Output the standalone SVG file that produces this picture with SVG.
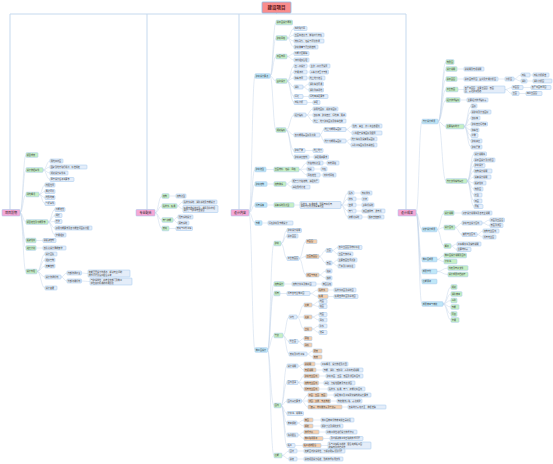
<svg xmlns="http://www.w3.org/2000/svg" width="553" height="464" viewBox="0 0 553 464">
<style>
rect{rx:.8px;ry:.8px;stroke:#9cc4ec;stroke-width:.5}
.r{fill:#f98c8c;stroke:#8ebde8;stroke-width:.8}
.p{fill:#f5a8d6}
.c{fill:#bfe7f8}
.g{fill:#c6efc3}
.b{fill:#e4edf9}
.o{fill:#f5cfae}
text{font-family:"Noto Sans CJK SC","Noto Sans",sans-serif;font-size:2.1px;fill:#333}
.m{font-size:3px;text-anchor:middle;fill:#222}
.t0{font-size:4.5px;text-anchor:middle;fill:#5b1616;font-weight:bold}
#links path{fill:none;stroke:#c6d6ea;stroke-width:.5}
#links .trunk{stroke:#c5d9ee;stroke-width:1}
</style>
<rect width="553" height="464" fill="#fff" style="stroke:none"/>
<g id="links">
<path class="trunk" d="M276.5 13V14M10 209.5V14H406V209.5M147 14V209.5M239 14V209.5"/>
<path d="M20 212.75C23 212.75 23 155 26 155M20 212.75C23 212.75 23 170 26 170M20 212.75C23 212.75 23 194.5 26 194.5M20 212.75C23 212.75 23 222 26 222M20 212.75C23 212.75 23 240.5 26 240.5M20 212.75C23 212.75 23 248 26 248M20 212.75C23 212.75 23 271.5 26 271.5"/>
<path d="M43 170C46.5 170 46.5 161 50 161M43 170C46.5 170 46.5 167 50 167M43 170C46.5 170 46.5 173 50 173M43 170C46.5 170 46.5 179.5 50 179.5"/>
<path d="M39 194.5C42 194.5 42 185 45 185M39 194.5C42 194.5 42 191.5 45 191.5M39 194.5C42 194.5 42 197.5 45 197.5M39 194.5C42 194.5 42 203.5 45 203.5"/>
<path d="M48 222C51.5 222 51.5 209.5 55 209.5M48 222C51.5 222 51.5 215.5 55 215.5M48 222C51.5 222 51.5 221.5 55 221.5M48 222C51.5 222 51.5 228 55 228M48 222C51.5 222 51.5 235 55 235"/>
<path d="M36 240.5H43M36 248H43"/>
<path d="M37 271.5C41 271.5 41 254 45 254M37 271.5C41 271.5 41 260 45 260M37 271.5C41 271.5 41 266 45 266M37 271.5C41 271.5 41 277 45 277M37 271.5C41 271.5 41 288 45 288"/>
<path d="M61 277C64 277 64 273 67 273M61 277C64 277 64 281 67 281M81.5 273C84.5 273 84.5 273.5 88 273.5M81.5 281C85.5 281 85.5 281.5 90 281.5"/>
<path d="M155 212.75C158.5 212.75 158.5 196 162 196M155 212.75C158.5 212.75 158.5 206 162 206M155 212.75C158.5 212.75 158.5 220 162 220M155 212.75C158.5 212.75 158.5 228.5 162 228.5"/>
<path d="M169 196H176M177 206C180 206 180 202 183 202M177 206C180 206 180 209 183 209M173 220C175.5 220 175.5 217 178 217M173 220C175.5 220 175.5 223 178 223M169 228.5H176"/>
<path d="M249 212.75C252 212.75 252 76 255 76M249 212.75C252 212.75 252 169.5 255 169.5M249 212.75C252 212.75 252 184 255 184M249 212.75C252 212.75 252 205 255 205M249 212.75C252 212.75 252 223 255 223M249 212.75C252 212.75 252 350 255 350"/>
<path d="M270 76C273 76 273 22.5 276 22.5M270 76C273 76 273 38 276 38M270 76C273 76 273 56.5 276 56.5M270 76C273 76 273 81 276 81M270 76C273 76 273 130 276 130"/>
<path d="M287 38C290.5 38 290.5 28.5 294 28.5M287 38C290.5 38 290.5 35 294 35M287 38C290.5 38 290.5 41 294 41M287 38C290.5 38 290.5 47 294 47M287 56.5C290.5 56.5 290.5 53.5 294 53.5M287 56.5C290.5 56.5 290.5 60 294 60"/>
<path d="M287 81C290.5 81 290.5 66 294 66M287 81C290.5 81 290.5 72 294 72M287 81C290.5 81 290.5 78 294 78M287 81C290.5 81 290.5 87 294 87M287 81C290.5 81 290.5 96.5 294 96.5M287 81C290.5 81 290.5 102.5 294 102.5"/>
<path d="M307 66H310M307 72H310M307 78H309M303 87C306 87 306 84 309 84M303 87C306 87 306 90 309 90M303 96.5H309M307 102.5H313"/>
<path d="M286 130C290 130 290 115 294 115M286 130C290 130 290 135 294 135M286 130C290 130 290 150.5 294 150.5M286 130C290 130 290 157 294 157"/>
<path d="M306 115C309.5 115 309.5 109 313 109M306 115H313M306 115C309.5 115 309.5 121 313 121M320 135C322 135 322 129.5 324 129.5M320 135C322 135 322 141 324 141M346 129.5C349 129.5 349 126 352 126M346 129.5C349 129.5 349 133 352 133M346 141C348.5 141 348.5 139 351 139M346 141C348.5 141 348.5 145 351 145M305 150.5H313M309 157H314"/>
<path d="M266 169.5H274M299 169.5C303 169.5 303 163 307 163M299 169.5C303 169.5 303 169 307 169M299 169.5C303 169.5 303 175 307 175M323 163H327M314 169H321M320 175H323"/>
<path d="M267 184H274M286 184C289 184 289 181 292 181M286 184C289 184 289 187 292 187"/>
<path d="M267 205H274M294 205H300M341 205C344.5 205 344.5 193 348 193M341 205C344.5 205 344.5 199 348 199M341 205H348M341 205C344.5 205 344.5 211 348 211M341 205C344.5 205 344.5 217 348 217M354 193H361M356 199H362M356 205H362M356 211H362M362 217H368"/>
<path d="M262 223H268"/>
<path d="M267.5 350C270.5 350 270.5 243.5 274 243.5M267.5 350C270.5 350 270.5 284 274 284M267.5 350C270.5 350 270.5 293.5 274 293.5M267.5 350C270.5 350 270.5 335.5 274 335.5M267.5 350C270.5 350 270.5 405.5 274 405.5M267.5 350C270.5 350 270.5 455.5 274 455.5"/>
<path d="M281 243.5C284 243.5 284 230.5 287 230.5M281 243.5C284 243.5 284 236 287 236M281 243.5C284 243.5 284 258.5 287 258.5M299 258.5C302.5 258.5 302.5 241.5 306 241.5M299 258.5C302.5 258.5 302.5 256.5 306 256.5M299 258.5C302.5 258.5 302.5 275 306 275"/>
<path d="M319 256.5C322.5 256.5 322.5 250.5 326 250.5M319 256.5C322.5 256.5 322.5 263 326 263M332 250.5C335 250.5 335 247.5 338 247.5M332 250.5C335 250.5 335 254 338 254M332 263C335 263 335 260 338 260M332 263C335 263 335 266 338 266M319 275C322.5 275 322.5 271 326 271M319 275C322.5 275 322.5 278 326 278"/>
<path d="M284 284H292M316 284H322M280 293.5H287M310 293.5C314 293.5 314 290 318 290M310 293.5C314 293.5 314 296.5 318 296.5M328 290H334M328 296.5H334"/>
<path d="M283 335.5C286 335.5 286 317 289 317M283 335.5C286 335.5 286 341.5 289 341.5M283 335.5C286 335.5 286 354 289 354M297 317C300.5 317 300.5 305 304 305M297 317H304M297 317C300.5 317 300.5 329 304 329"/>
<path d="M312 305C315.5 305 315.5 301.5 319 301.5M312 305C315.5 305 315.5 306.5 319 306.5M312 317C315.5 317 315.5 314.5 319 314.5M312 317C315.5 317 315.5 320 319 320M312 329C315.5 329 315.5 326 319 326M312 329C315.5 329 315.5 332.5 319 332.5"/>
<path d="M298 341.5C301 341.5 301 338.5 304 338.5M298 341.5C301 341.5 301 345 304 345M307 354C310 354 310 351 313 351M307 354C310 354 310 357 313 357"/>
<path d="M281 405.5C284 405.5 284 366 287 366M281 405.5C284 405.5 284 382.5 287 382.5M281 405.5C284 405.5 284 401 287 401M281 405.5C284 405.5 284 413.5 287 413.5M281 405.5C284 405.5 284 423 287 423M281 405.5C284 405.5 284 435 287 435M281 405.5C284 405.5 284 445.5 287 445.5"/>
<path d="M298 366C301 366 301 364 304 364M298 366C301 366 301 370 304 370M315 364H321M316 370H323M298 382.5C301 382.5 301 376 304 376M298 382.5C301 382.5 301 383 304 383M298 382.5C301 382.5 301 389 304 389M319 376H326M318.5 383H324M319 389H328"/>
<path d="M301.5 401C304.75 401 304.75 395 308 395M301.5 401H308M301.5 401C304.75 401 304.75 407 308 407M327 395H334M330.5 401H337M342 407H348"/>
<path d="M297 423C300.5 423 300.5 420 304 420M297 423C300.5 423 300.5 426 304 426M313 420H321M313 426H321M298 435C301 435 301 432 304 432M298 435C301 435 301 438.5 304 438.5M319 432H326M323 438.5H330M295 445.5H303M321 445.5H328"/>
<path d="M282 455.5C285.5 455.5 285.5 451 289 451M282 455.5C285.5 455.5 285.5 459 289 459M297 451H304M297 459H304"/>
<path d="M416 212.75C419 212.75 419 121.5 422 121.5M416 212.75C419 212.75 419 229.5 422 229.5M416 212.75C419 212.75 419 259.5 422 259.5M416 212.75C419 212.75 419 271.5 422 271.5M416 212.75C419 212.75 419 281.5 422 281.5M416 212.75C419 212.75 419 304 422 304"/>
<path d="M438 121.5C442 121.5 442 62 446 62M438 121.5C442 121.5 442 69 446 69M438 121.5C442 121.5 442 79 446 79M438 121.5C442 121.5 442 89.5 446 89.5M438 121.5C442 121.5 442 100 446 100M438 121.5C442 121.5 442 126.5 446 126.5M438 121.5C442 121.5 442 181 446 181"/>
<path d="M457 69H464M457 79H464M498 79H505M514 79C517.5 79 517.5 75 521 75M514 79C517.5 79 517.5 81 521 81M530 75H533M527 81H533M458 89.5H464M505 89.5C508.5 89.5 508.5 87.5 512 87.5M505 89.5C508.5 89.5 508.5 93.5 512 93.5M523 87.5H531M519 93.5H526M460 100H467"/>
<path d="M464 126.5C467.5 126.5 467.5 106 471 106M464 126.5C467.5 126.5 467.5 112 471 112M464 126.5C467.5 126.5 467.5 118 471 118M464 126.5C467.5 126.5 467.5 124 471 124M464 126.5C467.5 126.5 467.5 130 471 130M464 126.5C467.5 126.5 467.5 135.5 471 135.5M464 126.5C467.5 126.5 467.5 141 471 141M464 126.5C467.5 126.5 467.5 147 471 147"/>
<path d="M467 181C470.5 181 470.5 154 474 154M467 181C470.5 181 470.5 160 474 160M467 181C470.5 181 470.5 165.5 474 165.5M467 181C470.5 181 470.5 171 474 171M467 181C470.5 181 470.5 177 474 177M467 181C470.5 181 470.5 183 474 183M467 181C470.5 181 470.5 189 474 189M467 181C470.5 181 470.5 195 474 195M467 181C470.5 181 470.5 201 474 201M467 181C470.5 181 470.5 206.5 474 206.5"/>
<path d="M437 229.5C440.5 229.5 440.5 213 444 213M437 229.5C440.5 229.5 440.5 227.5 444 227.5M437 229.5C440.5 229.5 440.5 246 444 246M454 213H462M455 227.5C458.5 227.5 458.5 223 462 223M455 227.5C458.5 227.5 458.5 234.5 462 234.5M482 223C486 223 486 220 490 220M482 223C486 223 486 225.5 490 225.5M477 234.5C480 234.5 480 231 483 231M477 234.5C480 234.5 480 237 483 237M451 246C454 246 454 244 457 244M451 246C454 246 454 249.5 457 249.5"/>
<path d="M437 259.5C440.5 259.5 440.5 255.5 444 255.5M437 259.5C440.5 259.5 440.5 261.5 444 261.5M437 271.5C442.5 271.5 442.5 268 448 268M437 271.5C442.5 271.5 442.5 274.5 448 274.5"/>
<path d="M443 304C447 304 447 287 451 287M443 304C447 304 447 294 451 294M443 304C447 304 447 300.5 451 300.5M443 304C447 304 447 307 451 307M443 304C447 304 447 314 451 314M443 304C447 304 447 320 451 320"/>
</g>
<g id="nodes">
<g id="root"><rect class="r" x="262" y="2" width="29" height="11"/><text class="t0" x="276.5" y="9.2">建设项目</text></g>
<g id="L0"><rect class="p" x="2" y="209.5" width="18" height="6.5"/><text class="m" x="11" y="213.85">项目前期</text></g>
<g id="L1"><rect class="g" x="26" y="152.7" width="12" height="4.6"/><text x="26.8" y="155.8">项目背景</text></g>
<g id="L2"><rect class="g" x="26" y="167.7" width="17" height="4.6"/><text x="26.8" y="170.8">设计依据条件</text></g>
<g id="L2a"><rect class="b" x="50" y="159" width="13" height="4"/><text x="50.8" y="161.8">用地红线图</text></g>
<g id="L2b"><rect class="b" x="50" y="165" width="37" height="4"/><text x="50.8" y="167.8">国家及地方现行规范、标准规定</text></g>
<g id="L2c"><rect class="b" x="50" y="171" width="18" height="4"/><text x="50.8" y="173.8">规划设计条件书</text></g>
<g id="L2d"><rect class="b" x="50" y="177.5" width="24" height="4"/><text x="50.8" y="180.3">甲方设计任务书要求</text></g>
<g id="L3"><rect class="g" x="26" y="192.2" width="13" height="4.6"/><text x="26.8" y="195.3">场地概况</text></g>
<g id="L3a"><rect class="b" x="45" y="183" width="10" height="4"/><text x="45.8" y="185.8">地理位置</text></g>
<g id="L3b"><rect class="b" x="45" y="189.5" width="10" height="4"/><text x="45.8" y="192.3">周边环境</text></g>
<g id="L3c"><rect class="b" x="45" y="195.5" width="10" height="4"/><text x="45.8" y="198.3">地形地貌</text></g>
<g id="L3d"><rect class="b" x="45" y="201.5" width="10" height="4"/><text x="45.8" y="204.3">气候条件</text></g>
<g id="L4"><rect class="g" x="26" y="219.7" width="22" height="4.6"/><text x="26.8" y="222.8">项目定位及功能需求</text></g>
<g id="L4a"><rect class="b" x="55" y="207.5" width="10" height="4"/><text x="55.8" y="210.3">功能定位</text></g>
<g id="L4b"><rect class="b" x="55" y="213.5" width="7" height="4"/><text x="55.8" y="216.3">规模</text></g>
<g id="L4c"><rect class="b" x="55" y="219.5" width="7" height="4"/><text x="55.8" y="222.3">档次</text></g>
<g id="L4d"><rect class="b" x="55" y="226" width="37" height="4"/><text x="55.8" y="228.8">使用功能要求及各功能空间面积分配</text></g>
<g id="L4e"><rect class="b" x="55" y="233" width="11" height="4"/><text x="55.8" y="235.8">交通组织</text></g>
<g id="L5"><rect class="g" x="26" y="238.2" width="10" height="4.6"/><text x="26.8" y="241.3">投资估算</text></g>
<g id="L5a"><rect class="b" x="43" y="238.5" width="13" height="4"/><text x="43.8" y="241.3">总投资控制</text></g>
<g id="L6"><rect class="g" x="26" y="245.7" width="10" height="4.6"/><text x="26.8" y="248.8">进度计划</text></g>
<g id="L6a"><rect class="b" x="43" y="246" width="23" height="4"/><text x="43.8" y="248.8">各阶段设计周期安排</text></g>
<g id="L7"><rect class="g" x="26" y="269.2" width="11" height="4.6"/><text x="26.8" y="272.3">设计管理</text></g>
<g id="L7a"><rect class="b" x="45" y="252" width="12" height="4"/><text x="45.8" y="254.8">设计团队</text></g>
<g id="L7b"><rect class="b" x="45" y="258" width="10" height="4"/><text x="45.8" y="260.8">组织架构</text></g>
<g id="L7c"><rect class="b" x="45" y="264" width="10" height="4"/><text x="45.8" y="266.8">质量控制</text></g>
<g id="L7d"><rect class="b" x="45" y="275" width="16" height="4"/><text x="45.8" y="277.8">设计协调机制</text></g>
<g id="L7e"><rect class="b" x="45" y="286" width="12" height="4"/><text x="45.8" y="288.8">设计变更</text></g>
<g id="L7d1"><rect class="b" x="67" y="271" width="14.5" height="4"/><text x="67.8" y="273.8">内部协调会议</text></g>
<g id="L7d2"><rect class="b" x="67" y="279" width="14.5" height="4"/><text x="67.8" y="281.8">外部沟通机制</text></g>
<g id="L7d1a"><rect class="b" x="88" y="270" width="42" height="7"/><text x="88.8" y="273.05">定期召开设计协调会，解决专业间的</text><text x="88.8" y="275.55">技术问题及接口配合事宜</text></g>
<g id="L7d2a"><rect class="b" x="90" y="278" width="42" height="7"/><text x="90.8" y="281.05">与建设单位、政府主管部门及施工</text><text x="90.8" y="283.55">单位保持畅通的沟通渠道</text></g>
<g id="M0"><rect class="p" x="136" y="209.5" width="19" height="6.5"/><text class="m" x="145.5" y="213.85">专业配合</text></g>
<g id="M1"><rect class="g" x="162" y="193.7" width="7" height="4.6"/><text x="162.8" y="196.8">结构</text></g>
<g id="M1a"><rect class="b" x="176" y="194" width="10" height="4"/><text x="176.8" y="196.8">结构选型</text></g>
<g id="M2"><rect class="g" x="162" y="203.7" width="15" height="4.6"/><text x="162.8" y="206.8">给排水、暖通</text></g>
<g id="M2a"><rect class="b" x="183" y="200" width="34" height="4"/><text x="183.8" y="202.8">给排水系统、消防系统及节能设计</text></g>
<g id="M2b"><rect class="b" x="183" y="205.5" width="35" height="7"/><text x="183.8" y="208.55">暖通空调系统选型、通风及防排烟</text><text x="183.8" y="211.05">设计，与建筑专业配合</text></g>
<g id="M3"><rect class="g" x="162" y="217.7" width="11" height="4.6"/><text x="162.8" y="220.8">电气智能</text></g>
<g id="M3a"><rect class="b" x="178" y="215" width="15" height="4"/><text x="178.8" y="217.8">强电系统设计</text></g>
<g id="M3b"><rect class="b" x="178" y="221" width="11" height="4"/><text x="178.8" y="223.8">弱电系统</text></g>
<g id="M4"><rect class="g" x="162" y="226.2" width="7" height="4.6"/><text x="162.8" y="229.3">景观</text></g>
<g id="M4a"><rect class="b" x="176" y="226.5" width="16.5" height="4"/><text x="176.8" y="229.3">景观与室外工程</text></g>
<g id="C0"><rect class="p" x="231" y="209.5" width="18" height="6.5"/><text class="m" x="240" y="213.85">设计内容</text></g>
<g id="A"><rect class="c" x="255" y="73.7" width="15" height="4.6"/><text x="255.8" y="76.8">建筑设计要点</text></g>
<g id="A1"><rect class="g" x="276" y="20.2" width="16.5" height="4.6"/><text x="276.8" y="23.3">总平面设计原则</text></g>
<g id="A2"><rect class="g" x="276" y="35.7" width="11" height="4.6"/><text x="276.8" y="38.8">建筑风格</text></g>
<g id="A2a"><rect class="b" x="294" y="26.5" width="13" height="4"/><text x="294.8" y="29.3">简约现代风</text></g>
<g id="A2b"><rect class="b" x="294" y="33" width="30" height="4"/><text x="294.8" y="35.8">立面简洁大方，体现时代特色</text></g>
<g id="A2c"><rect class="b" x="294" y="39" width="30" height="4"/><text x="294.8" y="41.8">材料耐久、色彩与环境协调</text></g>
<g id="A2d"><rect class="b" x="294" y="45" width="24" height="4"/><text x="294.8" y="47.8">建筑体量与尺度的控制</text></g>
<g id="A3"><rect class="g" x="276" y="54.2" width="11" height="4.6"/><text x="276.8" y="57.3">平面布局</text></g>
<g id="A3a"><rect class="b" x="294" y="51.5" width="15" height="4"/><text x="294.8" y="54.3">功能分区明确</text></g>
<g id="A3b"><rect class="b" x="294" y="58" width="15" height="4"/><text x="294.8" y="60.8">流线组织合理</text></g>
<g id="A4"><rect class="g" x="276" y="78.7" width="11" height="4.6"/><text x="276.8" y="81.8">竖向设计</text></g>
<g id="A4a"><rect class="b" x="294" y="64" width="13" height="4"/><text x="294.8" y="66.8">出入口设计</text></g>
<g id="A4a1"><rect class="b" x="310" y="64" width="20" height="4"/><text x="310.8" y="66.8">主次入口分开设置</text></g>
<g id="A4b"><rect class="b" x="294" y="70" width="13" height="4"/><text x="294.8" y="72.8">交通流线</text></g>
<g id="A4b1"><rect class="b" x="310" y="70" width="18.5" height="4"/><text x="310.8" y="72.8">人车分流互不干扰</text></g>
<g id="A4c"><rect class="b" x="294" y="76" width="13" height="4"/><text x="294.8" y="78.8">停车布置</text></g>
<g id="A4c1"><rect class="b" x="309" y="76" width="16" height="4"/><text x="309.8" y="78.8">地上地下结合</text></g>
<g id="A4d"><rect class="b" x="294" y="85" width="9" height="4"/><text x="294.8" y="87.8">消防</text></g>
<g id="A4d1"><rect class="b" x="309" y="82" width="14.5" height="4"/><text x="309.8" y="84.8">消防车道环通</text></g>
<g id="A4d2"><rect class="b" x="309" y="88" width="14.5" height="4"/><text x="309.8" y="90.8">消防登高场地</text></g>
<g id="A4e"><rect class="b" x="294" y="94.5" width="9" height="4"/><text x="294.8" y="97.3">绿化</text></g>
<g id="A4e1"><rect class="b" x="309" y="94.5" width="19" height="4"/><text x="309.8" y="97.3">绿地率满足要求</text></g>
<g id="A4f"><rect class="b" x="294" y="100.5" width="13" height="4"/><text x="294.8" y="103.3">日照分析</text></g>
<g id="A4f1"><rect class="b" x="313" y="100.5" width="7" height="4"/><text x="313.8" y="103.3">满足</text></g>
<g id="A5"><rect class="g" x="276" y="127.7" width="10" height="4.6"/><text x="276.8" y="130.8">规划指标</text></g>
<g id="A5a"><rect class="b" x="294" y="113" width="12" height="4"/><text x="294.8" y="115.8">经济指标</text></g>
<g id="A5a1"><rect class="b" x="313" y="107" width="25" height="4"/><text x="313.8" y="109.8">总用地面积、总建筑面积</text></g>
<g id="A5a2"><rect class="b" x="313" y="113" width="33" height="4"/><text x="313.8" y="115.8">容积率、建筑密度、绿地率、限高</text></g>
<g id="A5a3"><rect class="b" x="313" y="119" width="33" height="4"/><text x="313.8" y="121.8">地上、地下建筑面积及停车位数</text></g>
<g id="A5b"><rect class="b" x="294" y="133" width="26" height="4"/><text x="294.8" y="135.8">各功能用房面积及比例</text></g>
<g id="A5b1"><rect class="b" x="324" y="127.5" width="22" height="4"/><text x="324.8" y="130.3">地上功能用房面积</text></g>
<g id="A5b2"><rect class="b" x="324" y="139" width="22" height="4"/><text x="324.8" y="141.8">地下功能用房面积</text></g>
<g id="A5b1a"><rect class="b" x="352" y="124" width="30" height="4"/><text x="352.8" y="126.8">住宅、商业、办公等业态配比</text></g>
<g id="A5b1b"><rect class="b" x="352" y="131" width="30" height="4"/><text x="352.8" y="133.8">公共配套设施面积及配置</text></g>
<g id="A5b2a"><rect class="b" x="351" y="137" width="26" height="4"/><text x="351.8" y="139.8">地下车库及设备用房面积</text></g>
<g id="A5b2b"><rect class="b" x="351" y="143" width="26" height="4"/><text x="351.8" y="145.8">人防工程面积及平战结合</text></g>
<g id="A5c"><rect class="b" x="294" y="148.5" width="11" height="4"/><text x="294.8" y="151.3">建筑层数</text></g>
<g id="A5c1"><rect class="b" x="313" y="148.5" width="10" height="4"/><text x="313.8" y="151.3">地上地下</text></g>
<g id="A5d"><rect class="b" x="294" y="155" width="15" height="4"/><text x="294.8" y="157.8">建筑高度控制</text></g>
<g id="A5d1"><rect class="b" x="314" y="155" width="14.5" height="4"/><text x="314.8" y="157.8">满足限高要求</text></g>
<g id="B"><rect class="c" x="255" y="167.2" width="11" height="4.6"/><text x="255.8" y="170.3">建筑造型</text></g>
<g id="B1"><rect class="g" x="274" y="167.2" width="25" height="4.6"/><text x="274.8" y="170.3">立面材料、色彩、风格</text></g>
<g id="B1a"><rect class="b" x="307" y="161" width="16" height="4"/><text x="307.8" y="163.8">外墙材料选型</text></g>
<g id="B1a1"><rect class="b" x="327" y="161" width="12" height="4"/><text x="327.8" y="163.8">石材幕墙</text></g>
<g id="B1b"><rect class="b" x="307" y="167" width="7" height="4"/><text x="307.8" y="169.8">色彩</text></g>
<g id="B1b1"><rect class="b" x="321" y="167" width="6" height="4"/><text x="321.8" y="169.8">浅色</text></g>
<g id="B1c"><rect class="b" x="307" y="173" width="13" height="4"/><text x="307.8" y="175.8">风格定位</text></g>
<g id="B1c1"><rect class="b" x="323" y="173" width="13" height="4"/><text x="323.8" y="175.8">新中式风格</text></g>
<g id="C"><rect class="c" x="255" y="181.7" width="12" height="4.6"/><text x="255.8" y="184.8">建筑结构</text></g>
<g id="C1"><rect class="g" x="274" y="181.7" width="12" height="4.6"/><text x="274.8" y="184.8">结构体系</text></g>
<g id="C1a"><rect class="b" x="292" y="179" width="27" height="4"/><text x="292.8" y="181.8">框架剪力墙结构，满足抗震</text></g>
<g id="C1b"><rect class="b" x="292" y="185" width="18" height="4"/><text x="292.8" y="187.8">基础形式待定</text></g>
<g id="D"><rect class="c" x="255" y="202.7" width="12" height="4.6"/><text x="255.8" y="205.8">机电设备</text></g>
<g id="D1"><rect class="g" x="274" y="202.7" width="20" height="4.6"/><text x="274.8" y="205.8">设备系统及选型</text></g>
<g id="D1a"><rect class="b" x="300" y="201.5" width="41" height="7"/><text x="300.8" y="204.55">给排水、暖通空调、强弱电等机电</text><text x="300.8" y="207.05">系统方案比选及设备选型</text></g>
<g id="D1a1"><rect class="b" x="348" y="191" width="6" height="4"/><text x="348.8" y="193.8">给水</text></g>
<g id="D1a1x"><rect class="b" x="361" y="191" width="11" height="4"/><text x="361.8" y="193.8">市政供水</text></g>
<g id="D1a2"><rect class="b" x="348" y="197" width="8" height="4"/><text x="348.8" y="199.8">排水</text></g>
<g id="D1a2x"><rect class="b" x="362" y="197" width="6" height="4"/><text x="362.8" y="199.8">分流</text></g>
<g id="D1a3"><rect class="b" x="348" y="203" width="8" height="4"/><text x="348.8" y="205.8">空调</text></g>
<g id="D1a3x"><rect class="b" x="362" y="203" width="12" height="4"/><text x="362.8" y="205.8">多联机系统</text></g>
<g id="D1a4"><rect class="b" x="348" y="209" width="8" height="4"/><text x="348.8" y="211.8">电气</text></g>
<g id="D1a4x"><rect class="b" x="362" y="209" width="23" height="4"/><text x="362.8" y="211.8">双回路供电、发电机</text></g>
<g id="D1a5"><rect class="b" x="348" y="215" width="14" height="4"/><text x="348.8" y="217.8">智能化系统</text></g>
<g id="D1a5x"><rect class="b" x="368" y="215" width="16" height="4"/><text x="368.8" y="217.8">楼宇自控安防</text></g>
<g id="E"><rect class="c" x="255" y="220.7" width="7" height="4.6"/><text x="255.8" y="223.8">节能</text></g>
<g id="E1"><rect class="b" x="268" y="221" width="25" height="4"/><text x="268.8" y="223.8">绿色建筑及节能设计</text></g>
<g id="F"><rect class="c" x="255" y="347.7" width="12.5" height="4.6"/><text x="255.8" y="350.8">施工图设计</text></g>
<g id="F1"><rect class="g" x="274" y="241.2" width="7" height="4.6"/><text x="274.8" y="244.3">建筑</text></g>
<g id="F1a"><rect class="b" x="287" y="228.5" width="14.5" height="4"/><text x="287.8" y="231.3">建筑设计说明</text></g>
<g id="F1b"><rect class="b" x="287" y="234" width="11" height="4"/><text x="287.8" y="236.8">总平面图</text></g>
<g id="F1c"><rect class="b" x="287" y="256.5" width="12" height="4"/><text x="287.8" y="259.3">平立剖面图</text></g>
<g id="F1c1"><rect class="o" x="306" y="239.5" width="11" height="4"/><text x="306.8" y="242.3">平面图</text></g>
<g id="F1c2"><rect class="o" x="306" y="254.5" width="13" height="4"/><text x="306.8" y="257.3">立面剖面图</text></g>
<g id="F1c3"><rect class="o" x="306" y="273" width="13" height="4"/><text x="306.8" y="275.8">详图与节点</text></g>
<g id="F1c2a"><rect class="b" x="326" y="248.5" width="6" height="4"/><text x="326.8" y="251.3">立面</text></g>
<g id="F1c2b"><rect class="b" x="326" y="261" width="6" height="4"/><text x="326.8" y="263.8">剖面</text></g>
<g id="F1c2a1"><rect class="b" x="338" y="245.5" width="24" height="4"/><text x="338.8" y="248.3">各向立面图及材料标注</text></g>
<g id="F1c2a2"><rect class="b" x="338" y="252" width="15" height="4"/><text x="338.8" y="254.8">立面装饰线条</text></g>
<g id="F1c2b1"><rect class="b" x="338" y="258" width="19" height="4"/><text x="338.8" y="260.8">主要剖面位置选取</text></g>
<g id="F1c2b2"><rect class="b" x="338" y="264" width="17" height="4"/><text x="338.8" y="266.8">层高及净高标注</text></g>
<g id="F1c3a"><rect class="b" x="326" y="269" width="6" height="4"/><text x="326.8" y="271.8">墙身</text></g>
<g id="F1c3b"><rect class="b" x="326" y="276" width="6" height="4"/><text x="326.8" y="278.8">楼梯</text></g>
<g id="F2"><rect class="g" x="274" y="281.7" width="10" height="4.6"/><text x="274.8" y="284.8">结构设计</text></g>
<g id="F2a"><rect class="b" x="292" y="282" width="24" height="4"/><text x="292.8" y="284.8">结构计算书及施工图</text></g>
<g id="F2b"><rect class="b" x="322" y="282" width="10" height="4"/><text x="322.8" y="284.8">审图合格</text></g>
<g id="F3"><rect class="g" x="274" y="291.2" width="6" height="4.6"/><text x="274.8" y="294.3">机电</text></g>
<g id="F3a"><rect class="b" x="287" y="291.5" width="23" height="4"/><text x="287.8" y="294.3">机电各专业施工图</text></g>
<g id="F3a1"><rect class="o" x="318" y="288" width="10" height="4"/><text x="318.8" y="290.8">给排水</text></g>
<g id="F3a1x"><rect class="b" x="334" y="288" width="22" height="4"/><text x="334.8" y="290.8">给排水平面及系统图</text></g>
<g id="F3a2"><rect class="o" x="318" y="294.5" width="10" height="4"/><text x="318.8" y="297.3">暖通</text></g>
<g id="F3a2x"><rect class="b" x="334" y="294.5" width="24" height="4"/><text x="334.8" y="297.3">暖通空调平面及系统图</text></g>
<g id="F4"><rect class="g" x="274" y="333.2" width="9" height="4.6"/><text x="274.8" y="336.3">装修</text></g>
<g id="F4a"><rect class="b" x="289" y="315" width="8" height="4"/><text x="289.8" y="317.8">室内</text></g>
<g id="F4a1"><rect class="o" x="304" y="303" width="8" height="4"/><text x="304.8" y="305.8">大堂</text></g>
<g id="F4a1a"><rect class="b" x="319" y="299.5" width="8" height="4"/><text x="319.8" y="302.3">地面</text></g>
<g id="F4a1b"><rect class="b" x="319" y="304.5" width="8" height="4"/><text x="319.8" y="307.3">墙面</text></g>
<g id="F4a2"><rect class="o" x="304" y="315" width="8" height="4"/><text x="304.8" y="317.8">走廊</text></g>
<g id="F4a2a"><rect class="b" x="319" y="312.5" width="8" height="4"/><text x="319.8" y="315.3">地面</text></g>
<g id="F4a2b"><rect class="b" x="319" y="318" width="8" height="4"/><text x="319.8" y="320.8">吊顶</text></g>
<g id="F4a3"><rect class="o" x="304" y="327" width="8" height="4"/><text x="304.8" y="329.8">卫浴</text></g>
<g id="F4a3a"><rect class="b" x="319" y="324" width="8" height="4"/><text x="319.8" y="326.8">防水</text></g>
<g id="F4a3b"><rect class="b" x="319" y="330.5" width="8" height="4"/><text x="319.8" y="333.3">洁具</text></g>
<g id="F4b"><rect class="b" x="289" y="339.5" width="9" height="4"/><text x="289.8" y="342.3">外立面</text></g>
<g id="F4b1"><rect class="o" x="304" y="336.5" width="8" height="4"/><text x="304.8" y="339.3">幕墙</text></g>
<g id="F4b2"><rect class="o" x="304" y="343" width="8" height="4"/><text x="304.8" y="345.8">涂料</text></g>
<g id="F4c"><rect class="b" x="289" y="352" width="18" height="4"/><text x="289.8" y="354.8">景观及室外工程</text></g>
<g id="F4c1"><rect class="o" x="313" y="349" width="9" height="4"/><text x="313.8" y="351.8">硬景</text></g>
<g id="F4c2"><rect class="o" x="313" y="355" width="9" height="4"/><text x="313.8" y="357.8">软景</text></g>
<g id="F5"><rect class="g" x="274" y="403.2" width="7" height="4.6"/><text x="274.8" y="406.3">图纸</text></g>
<g id="F5a"><rect class="b" x="287" y="364" width="11" height="4"/><text x="287.8" y="366.8">设计说明</text></g>
<g id="F5a1"><rect class="o" x="304" y="362" width="11" height="4"/><text x="304.8" y="364.8">总说明</text></g>
<g id="F5a1x"><rect class="b" x="321" y="362" width="27" height="4"/><text x="321.8" y="364.8">工程概况、设计依据及范围</text></g>
<g id="F5a2"><rect class="o" x="304" y="368" width="12" height="4"/><text x="304.8" y="370.8">专项说明</text></g>
<g id="F5a2x"><rect class="b" x="323" y="368" width="40" height="4"/><text x="323.8" y="370.8">节能、消防、无障碍、人防等专项说明</text></g>
<g id="F5b"><rect class="b" x="287" y="380.5" width="11" height="4"/><text x="287.8" y="383.3">图纸目录</text></g>
<g id="F5b1"><rect class="o" x="304" y="374" width="15" height="4"/><text x="304.8" y="376.8">建筑专业图纸</text></g>
<g id="F5b1x"><rect class="b" x="326" y="374" width="37" height="4"/><text x="326.8" y="376.8">建筑平面、立面、剖面及详图等图纸</text></g>
<g id="F5b2"><rect class="o" x="304" y="381" width="14.5" height="4"/><text x="304.8" y="383.8">结构专业图纸</text></g>
<g id="F5b2x"><rect class="b" x="324" y="381" width="31" height="4"/><text x="324.8" y="383.8">基础、梁板柱配筋及节点详图</text></g>
<g id="F5b3"><rect class="o" x="304" y="387" width="15" height="4"/><text x="304.8" y="389.8">机电专业图纸</text></g>
<g id="F5b3x"><rect class="b" x="328" y="387" width="37" height="4"/><text x="328.8" y="389.8">给排水、暖通、电气、智能化等图纸</text></g>
<g id="F5c"><rect class="b" x="287" y="399" width="14.5" height="4"/><text x="287.8" y="401.8">图纸深度要求</text></g>
<g id="F5c1"><rect class="o" x="308" y="393" width="19" height="4"/><text x="308.8" y="395.8">平面、立面、剖面</text></g>
<g id="F5c1x"><rect class="b" x="334" y="393" width="37" height="4"/><text x="334.8" y="395.8">满足施工及工程预算编制的深度要求</text></g>
<g id="F5c2"><rect class="o" x="308" y="399" width="22.5" height="4"/><text x="308.8" y="401.8">详图、大样、节点构造</text></g>
<g id="F5c2x"><rect class="b" x="337" y="399" width="25" height="4"/><text x="337.8" y="401.8">构造做法清晰、表达完整</text></g>
<g id="F5c3"><rect class="o" x="308" y="405" width="34" height="4"/><text x="308.8" y="407.8">门窗表、材料做法表及装修表</text></g>
<g id="F5c3x"><rect class="b" x="348" y="405" width="38" height="4"/><text x="348.8" y="407.8">各类统计表格齐全，数据准确</text></g>
<g id="F5d"><rect class="b" x="287" y="411.5" width="16.5" height="4"/><text x="287.8" y="414.3">计算书、说明书</text></g>
<g id="F5e"><rect class="b" x="287" y="421" width="10" height="4"/><text x="287.8" y="423.8">审查报批</text></g>
<g id="F5e1"><rect class="o" x="304" y="418" width="9" height="4"/><text x="304.8" y="420.8">审图</text></g>
<g id="F5e1x"><rect class="b" x="321" y="418" width="33" height="4"/><text x="321.8" y="420.8">施工图审查机构审查并出具意见</text></g>
<g id="F5e2"><rect class="o" x="304" y="424" width="9" height="4"/><text x="304.8" y="426.8">报批</text></g>
<g id="F5e2x"><rect class="b" x="321" y="424" width="22" height="4"/><text x="321.8" y="426.8">报建手续及报批文件</text></g>
<g id="F5f"><rect class="b" x="287" y="433" width="11" height="4"/><text x="287.8" y="435.8">现场配合</text></g>
<g id="F5f1"><rect class="o" x="304" y="430" width="15" height="4"/><text x="304.8" y="432.8">技术交底</text></g>
<g id="F5f1x"><rect class="b" x="326" y="430" width="31" height="4"/><text x="326.8" y="432.8">向施工单位进行设计技术交底</text></g>
<g id="F5f2"><rect class="o" x="304" y="436.5" width="19" height="4"/><text x="304.8" y="439.3">施工现场服务</text></g>
<g id="F5f2x"><rect class="b" x="330" y="436.5" width="33" height="4"/><text x="330.8" y="439.3">及时解决施工中出现的技术问题</text></g>
<g id="F5g"><rect class="b" x="287" y="443.5" width="8" height="4"/><text x="287.8" y="446.3">竣工</text></g>
<g id="F5g1"><rect class="o" x="303" y="443.5" width="18" height="4"/><text x="303.8" y="446.3">竣工验收配合</text></g>
<g id="F5g1x"><rect class="b" x="328" y="442" width="43" height="7"/><text x="328.8" y="445.05">参与工程竣工验收，配合完成竣工图</text><text x="328.8" y="447.55">的编制及归档工作</text></g>
<g id="F6"><rect class="g" x="274" y="453.2" width="8" height="4.6"/><text x="274.8" y="456.3">后期</text></g>
<g id="F6a"><rect class="b" x="289" y="449" width="8" height="4"/><text x="289.8" y="451.8">回访</text></g>
<g id="F6a1"><rect class="b" x="304" y="449" width="41" height="4"/><text x="304.8" y="451.8">定期回访建设单位，了解使用情况及问题</text></g>
<g id="F6b"><rect class="b" x="289" y="457" width="8" height="4"/><text x="289.8" y="459.8">总结</text></g>
<g id="F6b1"><rect class="b" x="304" y="457" width="39" height="4"/><text x="304.8" y="459.8">总结项目设计经验，形成技术积累文件</text></g>
<g id="R0"><rect class="p" x="398" y="209.5" width="18" height="6.5"/><text class="m" x="407" y="213.85">设计成果</text></g>
<g id="R1"><rect class="c" x="422" y="119.2" width="16" height="4.6"/><text x="422.8" y="122.3">方案设计成果</text></g>
<g id="R1a"><rect class="g" x="446" y="59.7" width="8" height="4.6"/><text x="446.8" y="62.8">效果图</text></g>
<g id="R1b"><rect class="g" x="446" y="66.7" width="11" height="4.6"/><text x="446.8" y="69.8">设计说明</text></g>
<g id="R1b1"><rect class="b" x="464" y="67" width="20" height="4"/><text x="464.8" y="69.8">总说明及专项说明</text></g>
<g id="R1c"><rect class="g" x="446" y="76.7" width="11" height="4.6"/><text x="446.8" y="79.8">总平面图</text></g>
<g id="R1c1"><rect class="b" x="464" y="77" width="34" height="4"/><text x="464.8" y="79.8">总平面布置图、竖向及交通分析图</text></g>
<g id="R1c2"><rect class="b" x="505" y="77" width="9" height="4"/><text x="505.8" y="79.8">分析图</text></g>
<g id="R1c2a"><rect class="b" x="521" y="73" width="9" height="4"/><text x="521.8" y="75.8">日照</text></g>
<g id="R1c2a1"><rect class="b" x="533" y="73" width="16" height="4"/><text x="533.8" y="75.8">日照分析报告</text></g>
<g id="R1c2b"><rect class="b" x="521" y="79" width="6" height="4"/><text x="521.8" y="81.8">消防</text></g>
<g id="R1c2b1"><rect class="b" x="533" y="79" width="19" height="4"/><text x="533.8" y="81.8">消防分析图</text></g>
<g id="R1d"><rect class="g" x="446" y="87.2" width="12" height="4.6"/><text x="446.8" y="90.3">平立剖面</text></g>
<g id="R1d1"><rect class="b" x="464" y="86" width="41" height="7"/><text x="464.8" y="89.05">各层平面图、主要立面图、剖面</text><text x="464.8" y="91.55">图，表达建筑形态</text></g>
<g id="R1d1a"><rect class="b" x="512" y="85.5" width="11" height="4"/><text x="512.8" y="88.3">平面图</text></g>
<g id="R1d1a1"><rect class="b" x="531" y="85.5" width="20" height="4"/><text x="531.8" y="88.3">各层平面布置图</text></g>
<g id="R1d1b"><rect class="b" x="512" y="91.5" width="7" height="4"/><text x="512.8" y="94.3">立面</text></g>
<g id="R1d1b1"><rect class="b" x="526" y="91.5" width="16" height="4"/><text x="526.8" y="94.3">四向立面图</text></g>
<g id="R1e"><rect class="g" x="446" y="97.7" width="14" height="4.6"/><text x="446.8" y="100.8">经济技术指标</text></g>
<g id="R1e1"><rect class="b" x="467" y="98" width="21" height="4"/><text x="467.8" y="100.8">主要经济技术指标表</text></g>
<g id="R1f"><rect class="g" x="446" y="124.2" width="18" height="4.6"/><text x="446.8" y="127.3">主要指标统计</text></g>
<g id="R1f1"><rect class="b" x="471" y="104" width="6" height="4"/><text x="471.8" y="106.8">面积</text></g>
<g id="R1f2"><rect class="b" x="471" y="110" width="20" height="4"/><text x="471.8" y="112.8">总建筑及计容面积</text></g>
<g id="R1f3"><rect class="b" x="471" y="116" width="9" height="4"/><text x="471.8" y="118.8">容积率</text></g>
<g id="R1f4"><rect class="b" x="471" y="122" width="16.5" height="4"/><text x="471.8" y="124.8">建筑密度绿地率</text></g>
<g id="R1f5"><rect class="b" x="471" y="128" width="8" height="4"/><text x="471.8" y="130.8">停车位</text></g>
<g id="R1f6"><rect class="b" x="471" y="133.5" width="7" height="4"/><text x="471.8" y="136.3">户数</text></g>
<g id="R1f7"><rect class="b" x="471" y="139" width="11" height="4"/><text x="471.8" y="141.8">建筑高度</text></g>
<g id="R1f8"><rect class="b" x="471" y="145" width="11" height="4"/><text x="471.8" y="147.8">建筑层数</text></g>
<g id="R1g"><rect class="g" x="446" y="178.7" width="21" height="4.6"/><text x="446.8" y="181.8">方案文件编制深度</text></g>
<g id="R1g1"><rect class="b" x="474" y="152" width="12.5" height="4"/><text x="474.8" y="154.8">设计说明书</text></g>
<g id="R1g2"><rect class="b" x="474" y="158" width="21" height="4"/><text x="474.8" y="160.8">总平面设计及分析图</text></g>
<g id="R1g3"><rect class="b" x="474" y="163.5" width="11" height="4"/><text x="474.8" y="166.3">建筑设计</text></g>
<g id="R1g4"><rect class="b" x="474" y="169" width="18" height="4"/><text x="474.8" y="171.8">结构设计说明</text></g>
<g id="R1g5"><rect class="b" x="474" y="175" width="17" height="4"/><text x="474.8" y="177.8">设备设计说明</text></g>
<g id="R1g6"><rect class="b" x="474" y="181" width="12" height="4"/><text x="474.8" y="183.8">投资估算</text></g>
<g id="R1g7"><rect class="b" x="474" y="187" width="9" height="4"/><text x="474.8" y="189.8">效果图</text></g>
<g id="R1g8"><rect class="b" x="474" y="193" width="8" height="4"/><text x="474.8" y="195.8">模型</text></g>
<g id="R1g9"><rect class="b" x="474" y="199" width="8" height="4"/><text x="474.8" y="201.8">动画</text></g>
<g id="R1g10"><rect class="b" x="474" y="204.5" width="9" height="4"/><text x="474.8" y="207.3">展板</text></g>
<g id="R2"><rect class="c" x="422" y="227.2" width="15" height="4.6"/><text x="422.8" y="230.3">初步设计成果</text></g>
<g id="R2a"><rect class="g" x="444" y="210.7" width="10" height="4.6"/><text x="444.8" y="213.8">设计说明</text></g>
<g id="R2a1"><rect class="b" x="462" y="211" width="30" height="4"/><text x="462.8" y="213.8">初步设计说明书及各专业说明</text></g>
<g id="R2b"><rect class="g" x="444" y="225.2" width="11" height="4.6"/><text x="444.8" y="228.3">设计图纸</text></g>
<g id="R2b1"><rect class="b" x="462" y="221" width="20" height="4"/><text x="462.8" y="223.8">建筑专业设计图纸</text></g>
<g id="R2b1a"><rect class="b" x="490" y="218" width="14.5" height="4"/><text x="490.8" y="220.8">平面及立面图</text></g>
<g id="R2b1b"><rect class="b" x="490" y="223.5" width="13" height="4"/><text x="490.8" y="226.3">剖面及详图</text></g>
<g id="R2b2"><rect class="b" x="462" y="232.5" width="15" height="4"/><text x="462.8" y="235.3">其他专业图纸</text></g>
<g id="R2b2a"><rect class="b" x="483" y="229" width="16" height="4"/><text x="483.8" y="231.8">结构专业图纸</text></g>
<g id="R2b2b"><rect class="b" x="483" y="235" width="13" height="4"/><text x="483.8" y="237.8">机电专业图</text></g>
<g id="R2c"><rect class="g" x="444" y="243.7" width="7" height="4.6"/><text x="444.8" y="246.8">概算</text></g>
<g id="R2c1"><rect class="b" x="457" y="242" width="24" height="4"/><text x="457.8" y="244.8">工程概算书及编制说明</text></g>
<g id="R2c2"><rect class="b" x="457" y="247.5" width="14" height="4"/><text x="457.8" y="250.3">主要材料表</text></g>
<g id="R3"><rect class="c" x="422" y="257.2" width="15" height="4.6"/><text x="422.8" y="260.3">施工图成果</text></g>
<g id="R3a"><rect class="g" x="444" y="253.2" width="22.5" height="4.6"/><text x="444.8" y="256.3">施工图设计说明及图纸</text></g>
<g id="R3b"><rect class="g" x="444" y="259.2" width="13" height="4.6"/><text x="444.8" y="262.3">计算书</text></g>
<g id="R4"><rect class="c" x="422" y="269.2" width="15" height="4.6"/><text x="422.8" y="272.3">成果交付</text></g>
<g id="R4a"><rect class="g" x="448" y="265.7" width="20" height="4.6"/><text x="448.8" y="268.8">纸质及电子文件</text></g>
<g id="R4b"><rect class="g" x="448" y="272.2" width="20" height="4.6"/><text x="448.8" y="275.3">设计成果归档保存</text></g>
<g id="R5"><rect class="c" x="422" y="279.2" width="15" height="4.6"/><text x="422.8" y="282.3">后期服务</text></g>
<g id="R6"><rect class="c" x="422" y="301.7" width="21" height="4.6"/><text x="422.8" y="304.8">成果审查与审批</text></g>
<g id="R6a"><rect class="g" x="451" y="284.7" width="6" height="4.6"/><text x="451.8" y="287.8">规划</text></g>
<g id="R6b"><rect class="g" x="451" y="291.7" width="11" height="4.6"/><text x="451.8" y="294.8">消防审查</text></g>
<g id="R6c"><rect class="g" x="451" y="298.2" width="6" height="4.6"/><text x="451.8" y="301.3">人防</text></g>
<g id="R6d"><rect class="g" x="451" y="304.7" width="8" height="4.6"/><text x="451.8" y="307.8">节能</text></g>
<g id="R6e"><rect class="g" x="451" y="311.7" width="6" height="4.6"/><text x="451.8" y="314.8">环保</text></g>
<g id="R6f"><rect class="g" x="451" y="317.7" width="8" height="4.6"/><text x="451.8" y="320.8">交通</text></g>
</g>
</svg>
